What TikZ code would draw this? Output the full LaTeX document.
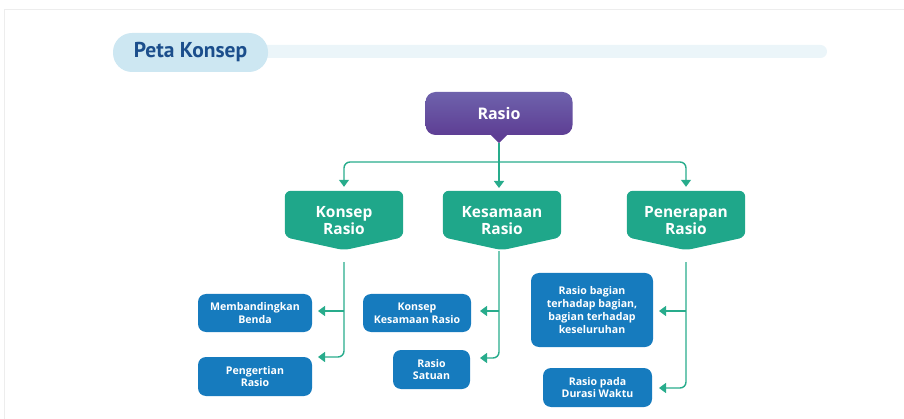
\documentclass[tikz,border=0pt]{standalone}
\usepackage{fontspec}
\setmainfont{Open Sans}
\newfontfamily\titlefont{PT Sans}
\usetikzlibrary{arrows.meta,backgrounds}

\definecolor{tealgreen}{RGB}{31,167,138}
\definecolor{linegreen}{RGB}{40,172,140}
\definecolor{boxblue}{RGB}{22,123,190}
\definecolor{rasiotop}{RGB}{110,98,172}
\definecolor{rasiobot}{RGB}{94,62,148}
\definecolor{pillblue}{RGB}{205,231,242}
\definecolor{barblue}{RGB}{235,245,249}
\definecolor{titleblue}{RGB}{27,78,140}

\tikzset{
  bluebox/.style={fill=boxblue, rounded corners=8pt, text=white, align=center,
    inner sep=0pt, font=\bfseries\fontsize{10.6}{12.8}\selectfont},
  greenbox/.style={text=white, align=center, inner sep=0pt, minimum width=118pt,
    minimum height=61pt, font=\bfseries\fontsize{15.5}{17}\selectfont},
  link/.style={draw=linegreen, line width=1.4pt, rounded corners=6pt},
  tip/.style={-{Triangle[width=10pt,length=7pt]}}
}

\begin{document}
\begin{tikzpicture}[x=1pt,y=-1pt]
	\useasboundingbox (0,0) rectangle (904,419);
	% frame
	\draw[black!7, line width=1pt] (4,419) -- (4,10) -- (904,10);

	% heading
	\fill[barblue, rounded corners=6.5pt] (250,45) rectangle (827,58);
	\node[fill=pillblue, rounded corners=19pt, minimum width=155pt, minimum height=39pt,
		text=titleblue, font=\titlefont\bfseries\fontsize{21.5}{24}\selectfont] (judul) at (190.5,52.5) {Peta Konsep};

	% top node
	\node[top color=rasiotop, bottom color=rasiobot, rounded corners=10pt, minimum width=147pt,
		minimum height=43pt, text=white, font=\bfseries\fontsize{16}{18}\selectfont] (rasio) at (499,113.5) {Rasio};
	\fill[rasiobot] ([xshift=-8pt]rasio.south) -- ([xshift=8pt]rasio.south) -- ([yshift=-8pt]rasio.south) -- cycle;

	% second level
	\node[greenbox] (konsep) at (344,220.5) {Konsep\\Rasio};
	\node[greenbox] (kesamaan) at (502,220.5) {Kesamaan\\Rasio};
	\node[greenbox] (penerapan) at (686,220.5) {Penerapan\\Rasio};
	\begin{scope}[on background layer]
		\foreach \n in {konsep,kesamaan,penerapan}
			\fill[tealgreen, rounded corners=6pt] ([yshift=-1pt]\n.north west) -- ([yshift=-1pt]\n.north east)
				-- ([yshift=14pt]\n.south east) -- ([yshift=1pt]\n.south) -- ([yshift=14pt]\n.south west) -- cycle;
	\end{scope}

	% third level
	\node[bluebox, minimum width=114pt, minimum height=38pt] (banding) at (255,313) {Membandingkan\\Benda};
	\node[bluebox, minimum width=114pt, minimum height=39pt] (pengertian) at (255,376.5) {Pengertian\\Rasio};
	\node[bluebox, minimum width=108pt, minimum height=38pt] (kesrasio) at (417,313) {Konsep\\Kesamaan Rasio};
	\node[bluebox, minimum width=77pt, minimum height=39pt] (satuan) at (431.5,369.5) {Rasio\\Satuan};
	\node[bluebox, minimum width=122pt, minimum height=74pt] (bagian) at (592,310) {Rasio bagian\\terhadap bagian,\\bagian terhadap\\keseluruhan};
	\node[bluebox, minimum width=109pt, minimum height=39pt] (durasi) at (597.5,387.5) {Rasio pada\\Durasi Waktu};

	% arrow ends
	\coordinate (hub) at (499,162);
	\coordinate (rasiotip) at ([yshift=-8pt]rasio.south);
	\coordinate (kesamaanin) at (499,188);
	\coordinate (bandingin) at (318,311);
	\coordinate (pengertianin) at (318,357);
	\coordinate (kesrasioin) at (480,311);
	\coordinate (satuanin) at (480,358);
	\coordinate (bagianin) at (659,311);
	\coordinate (durasiin) at (659,388);

	% connectors
	\draw[link, tip] (rasiotip) -- (kesamaanin);
	\draw[link, tip] (hub) -| ([yshift=3pt]konsep.north);
	\draw[link, tip] (hub) -| ([yshift=3pt]penerapan.north);

	\draw[link, tip] ([yshift=-11pt]konsep.south) |- (pengertianin);
	\draw[link, tip] (konsep.south |- bandingin) -- (bandingin);

	\draw[link, tip] (rasiotip |- kesamaan.south) |- (satuanin);
	\draw[link, tip] (rasiotip |- kesrasioin) -- (kesrasioin);

	\draw[link, tip] ([yshift=-11pt]penerapan.south) |- (durasiin);
	\draw[link, tip] (penerapan.south |- bagianin) -- (bagianin);
\end{tikzpicture}
\end{document}
